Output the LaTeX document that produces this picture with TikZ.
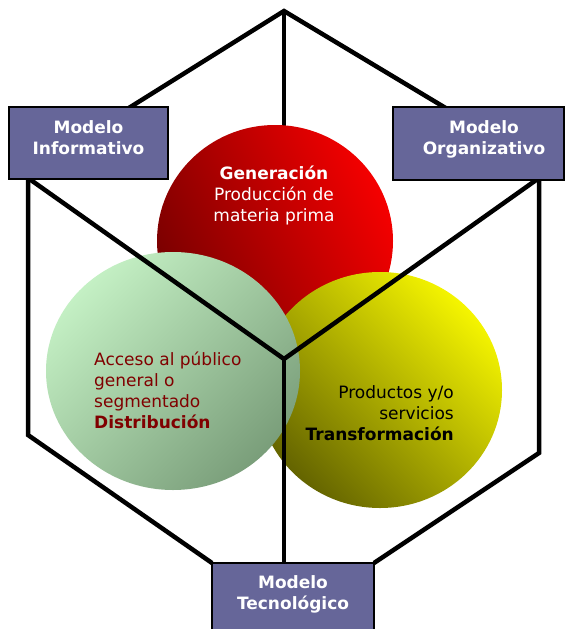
\documentclass[tikz,border=0pt]{standalone}
\usepackage{fontspec}
\setmainfont{DejaVu Sans}
\usetikzlibrary{shapes.geometric}
\definecolor{boxblue}{RGB}{102,102,153}
\definecolor{darkred}{RGB}{128,0,0}
\definecolor{redA}{RGB}{245,0,0}
\definecolor{redB}{RGB}{120,0,0}
\definecolor{greenA}{RGB}{196,240,196}
\definecolor{greenB}{RGB}{122,158,122}
\definecolor{yellowA}{RGB}{245,245,0}
\definecolor{yellowB}{RGB}{100,100,0}
\begin{document}
\begin{tikzpicture}[x=1pt,y=-1pt,
  edge/.style={line width=4.5pt, line join=miter},
  box/.style={draw=black, line width=1.8pt, fill=boxblue, inner sep=0pt},
  boxtext/.style={text=white, font=\fontsize{17}{21}\selectfont\bfseries, align=center, inner sep=0pt, anchor=north},
  circtext/.style={font=\fontsize{17}{21}\selectfont, inner sep=0pt},
  disc/.style={ellipse, inner sep=0pt, draw=none}]
\useasboundingbox (0,0) rectangle (566,629);
% hexagon frame
\coordinate (T) at (284,11);
\coordinate (ULo) at (28,171);
\coordinate (URo) at (539,164);
\coordinate (UL) at (28,178);
\coordinate (LL) at (28,435);
\coordinate (UR) at (539,178);
\coordinate (LR) at (539,453);
\coordinate (C) at (284,359);
\coordinate (BL) at (212,563);
\coordinate (BR) at (374,563);
\coordinate (B) at (284,563);
\draw[edge] (BL) -- (LL) -- (ULo) -- (T) -- (URo) -- (LR) -- (BR);
\draw[edge] (T) -- (C);
% discs
\node[disc, minimum width=236pt, minimum height=232pt, top color=redA, bottom color=redB, shading angle=-65] (red) at (275,241) {};
\node[disc, minimum width=244pt, minimum height=236pt, top color=yellowA, bottom color=yellowB, shading angle=-45] (yel) at (380,390) {};
\node[disc, minimum width=254pt, minimum height=238pt, top color=greenA, bottom color=greenB, shading angle=45] (grn) at (173,371) {};
% inner Y
\draw[edge] (UL) -- (C) -- (UR);
\draw[edge] (C) -- (B);
% boxes
\node[box, minimum width=159pt, minimum height=72pt] (inf) at (88.5,143) {};
\node[box, minimum width=171pt, minimum height=73pt] (org) at (478.5,143.5) {};
\node[box, minimum width=162pt, minimum height=80pt] (tec) at (293,603) {};
\node[boxtext] (inft) at (88.5,120.1) {Modelo\\Informativo};
\node[boxtext] (orgt) at (484,120.1) {Modelo\\Organizativo};
\node[boxtext] (tect) at (293,575.1) {Modelo\\Tecnológico};
% disc texts
\node[circtext, text=white, align=center, anchor=north] (gent) at (274,165.4) {{\bfseries Generación}\\Producción de\\materia prima};
\node[circtext, text=darkred, align=left, anchor=north west] (distt) at (94,351.4) {Acceso al público\\general o\\segmentado\\{\bfseries Distribución}};
\node[circtext, text=black, align=right, anchor=north east] (trant) at (454,385.1) {Productos y/o\\servicios\\{\bfseries Transformación}};
\end{tikzpicture}
\end{document}
